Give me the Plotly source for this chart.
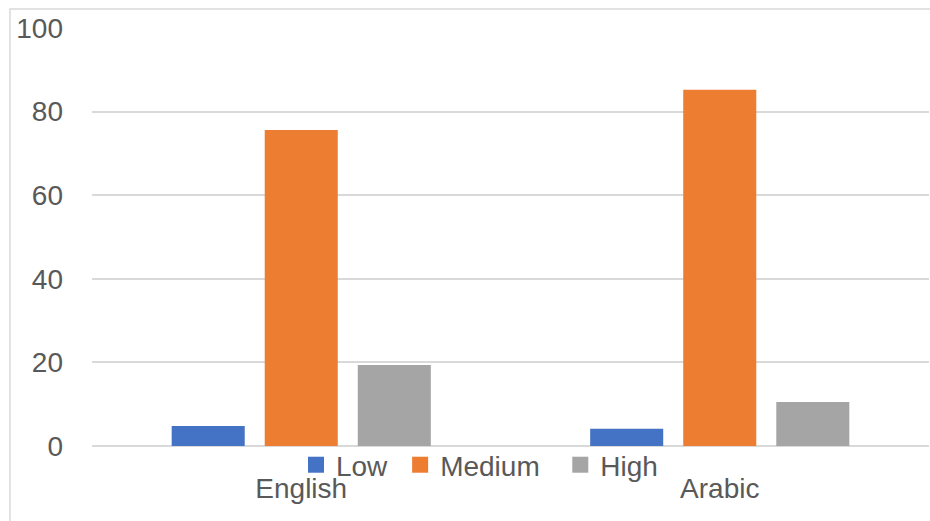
import plotly.graph_objects as go

# Categories and series values (percent)
categories = ["English", "Arabic"]
series_names = ["Low", "Medium", "High"]
low_values = [4.8, 4.1]
medium_values = [75.6, 85.2]
high_values = [19.4, 10.5]
y_tick_values = [0, 20, 40, 60, 80, 100]

colors = {"Low": "#4472C4", "Medium": "#ED7D31", "High": "#A5A5A5"}
values = {"Low": low_values, "Medium": medium_values, "High": high_values}
# trailing non-breaking spaces widen the gap between legend entries
legend_pad = {"Low": "\u00a0", "Medium": "\u00a0\u00a0", "High": ""}

FONT = "Liberation Sans, Arial, sans-serif"
TEXT_COLOR = "#595959"
FONT_SIZE = 28

fig = go.Figure()

for name in series_names:
    fig.add_trace(go.Bar(
        x=categories,
        y=values[name],
        name=name,
        marker=dict(color=colors[name], line=dict(width=0)),
        legendgroup=name,
        showlegend=False,
    ))

# Square legend keys for each series
for name in series_names:
    fig.add_trace(go.Scatter(
        x=[None], y=[None],
        mode="markers",
        name=name + legend_pad[name],
        legendgroup=name,
        marker=dict(symbol="square", size=16, color=colors[name]),
        showlegend=True,
    ))

fig.update_layout(
    width=930,
    height=521,
    margin=dict(l=92, r=1, t=28, b=75),
    paper_bgcolor="white",
    plot_bgcolor="white",
    barmode="group",
    bargap=0.333,
    bargroupgap=0.215,
    font=dict(family=FONT, size=FONT_SIZE, color=TEXT_COLOR),
    showlegend=True,
    legend=dict(
        orientation="h",
        x=0.2437, xanchor="left",
        y=-0.0455, yanchor="middle",
        font=dict(family=FONT, size=FONT_SIZE, color=TEXT_COLOR),
        bgcolor="rgba(0,0,0,0)",
        itemclick=False,
        tracegroupgap=0,
    ),
    xaxis=dict(
        type="category",
        showgrid=False,
        showline=False,
        zeroline=False,
        ticks="",
        ticklabelstandoff=23,
        tickfont=dict(family=FONT, size=FONT_SIZE, color=TEXT_COLOR),
        fixedrange=True,
    ),
    yaxis=dict(
        range=[0, 100],
        tickvals=y_tick_values,
        showgrid=True,
        gridcolor="#D9D9D9",
        gridwidth=1.5,
        zeroline=True,
        zerolinecolor="#D9D9D9",
        zerolinewidth=1.5,
        showline=False,
        ticks="",
        ticklabelstandoff=28,
        tickfont=dict(family=FONT, size=FONT_SIZE, color=TEXT_COLOR),
        fixedrange=True,
    ),
    shapes=[
        # chart-area border (top and left edges visible)
        dict(type="rect", xref="paper", yref="paper",
             x0=-0.098, x1=1.2, y0=-0.5, y1=1.0455,
             line=dict(color="#D9D9D9", width=1.5),
             fillcolor="rgba(0,0,0,0)", layer="below"),
    ],
)

fig.write_html("out.html")
